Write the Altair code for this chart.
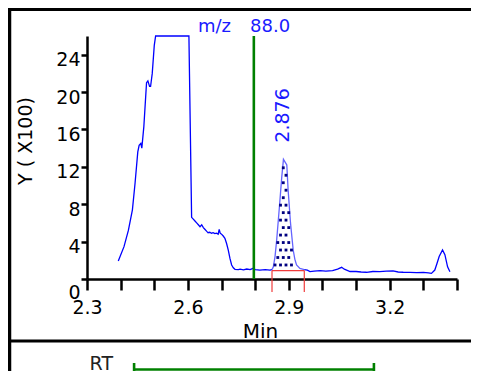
import altair as alt
import numpy as np
import pandas as pd

# ---- data ----
rt = [2.393, 2.41, 2.423, 2.435, 2.443, 2.451, 2.455, 2.46, 2.463, 2.469, 2.477, 2.481,
      2.486, 2.489, 2.494, 2.5, 2.504, 2.603, 2.611, 2.616, 2.621, 2.626, 2.631, 2.636,
      2.641, 2.646, 2.651, 2.656, 2.66, 2.665, 2.67, 2.675, 2.68, 2.685, 2.69, 2.693,
      2.696, 2.7, 2.705, 2.71, 2.715, 2.72, 2.725, 2.73, 2.735, 2.74, 2.75, 2.755, 2.765,
      2.775, 2.785, 2.794, 2.8, 2.814, 2.83, 2.844, 2.85, 2.854, 2.859, 2.864, 2.872,
      2.879, 2.884, 2.889, 2.894, 2.898, 2.905, 2.913, 2.918, 2.923, 2.933, 2.946, 2.955,
      2.963, 2.975, 2.993, 3.01, 3.03, 3.045, 3.057, 3.065, 3.082, 3.1, 3.115, 3.131,
      3.15, 3.17, 3.19, 3.21, 3.225, 3.24, 3.26, 3.28, 3.3, 3.315, 3.324, 3.334, 3.34,
      3.347, 3.357, 3.364, 3.372, 3.379]
intensity = [1.93, 3.46, 5.2, 7.4, 10.3, 13.6, 14.3, 14.5, 14.0, 16.3, 21.0, 21.2,
             20.6, 20.6, 22.0, 25.0, 26.0, 26.0, 6.6, 6.4, 6.2, 6.0, 5.8, 5.6,
             5.8, 5.5, 5.3, 5.1, 4.95, 5.0, 4.9, 4.95, 4.85, 4.9, 4.8, 5.3,
             4.9, 4.8, 4.6, 4.35, 3.8, 3.1, 2.2, 1.5, 1.2, 1.04, 1.0, 1.05, 0.98,
             1.07, 1.0, 1.14, 1.0, 0.96, 1.0, 0.96, 1.0, 1.3, 2.4, 4.2, 7.7,
             10.9, 12.8, 12.5, 12.2, 9.5, 6.0, 3.1, 2.1, 1.5, 1.14, 1.0, 0.95,
             0.8, 0.85, 0.9, 0.85, 0.9, 1.05, 1.25, 1.05, 0.8, 0.8, 0.75, 0.72,
             0.8, 0.78, 0.85, 0.86, 0.75, 0.72, 0.7, 0.68, 0.7, 0.65, 0.6, 0.96, 1.6,
             2.4, 3.1, 2.6, 1.3, 0.78]

x_ticks = [2.3, 2.4, 2.5, 2.6, 2.7, 2.8, 2.9, 3.0, 3.1, 3.2, 3.3, 3.4]
y_ticks = [0, 4, 8, 12, 16, 20, 24]

peak_start = [2.85]
peak_end = [2.946]
peak_baseline = [0.9]
peak_label = ["2.876"]
peak_label_pos = [2.884, 17.5]
mz_line_rt = [2.796]
mz_texts = ["m/z", "88.0"]
rt_range = [2.44, 3.153]
rt_label = ["RT"]

# frame (panel border) lines, in the chart's own units
frame_h_y = [28.835, -6.633]          # top border, divider between panels
frame_h_x = [2.06, 3.6]
frame_v_x = [2.0696]                   # left border
frame_v_y = [28.99, -12.0]

# ---- tables ----
seg = []
for t in rt:
    seg.append(0 if t <= peak_start[0] else (1 if t <= peak_end[0] else 2))
rows = []
for t, v, s in zip(rt, intensity, seg):
    rows.append({"t": t, "v": v, "seg": s})
for t, v in zip(rt, intensity):
    if abs(t - peak_start[0]) < 1e-9:
        rows.append({"t": t, "v": v, "seg": 1})
    if abs(t - peak_end[0]) < 1e-9:
        rows.append({"t": t, "v": v, "seg": 2})
trace = pd.DataFrame(rows).sort_values(["seg", "t"])
trace["part"] = trace["seg"].map({0: "a", 1: "peak", 2: "b"})

# dotted fill of the integrated peak
dots = []
xs = np.arange(peak_start[0] + 0.009, peak_end[0], 0.0163)
ys = np.arange(peak_baseline[0] + 0.6, 14, 0.8)
for j, yv in enumerate(ys):
    for xv in xs + (0.0082 if j % 2 else 0.0):
        cv = np.interp(xv, rt, intensity)
        if yv < cv - 0.5 and xv < peak_end[0]:
            dots.append({"t": float(xv), "v": float(yv)})
dots = pd.DataFrame(dots)

FONT = "DejaVu Sans"
xscale = alt.Scale(domain=[2.3, 3.4], nice=False, zero=False)
yscale = alt.Scale(domain=[0, 26], nice=False)

xaxis = alt.Axis(
    values=x_ticks, title="Min", labelExpr="(round(datum.value*10) % 3 == 2) ? format(datum.value, '.1f') : ''",
    grid=False, tickSize=11, tickWidth=2.5, domainWidth=2.5, domainColor="black", tickColor="black",
    labelColor="black", labelFont=FONT, labelFontSize=19, labelPadding=8, labelFlush=False,
    titleFont=FONT, titleFontSize=20, titleFontWeight="normal", titleColor="black",
    titleX=173, titleY=58, titleAlign="center", titleBaseline="alphabetic",
)
yaxis = alt.Axis(
    values=y_ticks, title="Y ( X100)", grid=False, tickSize=6, tickWidth=2.5, domainWidth=2.5,
    domainColor="black", tickColor="black", labelColor="black", labelFont=FONT, labelFontSize=19,
    labelPadding=1, labelFlush=False,
    labelOffset={"condition": {"test": "datum.value == 0", "value": 13}, "value": 5},
    titleFont=FONT, titleFontSize=19, titleFontWeight="normal", titleColor="black",
    titleAngle=270, titleX=-62, titleY=104.5, titleAlign="center", titleBaseline="middle",
)


def X(field="t"):
    return alt.X(f"{field}:Q", scale=xscale, axis=xaxis)


def Y(field="v"):
    return alt.Y(f"{field}:Q", scale=yscale, axis=yaxis)


line = alt.Chart(trace).mark_line(strokeWidth=1.3, interpolate="linear").encode(
    x=X(), y=Y(), detail="seg:N",
    color=alt.Color("part:N", scale=alt.Scale(domain=["a", "peak", "b"],
                                               range=["#0000ff", "#6464ff", "#0000ff"]), legend=None),
    order="t:Q",
)

dot_layer = alt.Chart(dots).mark_square(size=8, color="#000080", opacity=1).encode(x=X(), y=Y())

red_df = pd.DataFrame({"t": [peak_start[0], peak_end[0]], "v": [peak_baseline[0]] * 2})
red_v = alt.Chart(red_df).mark_rule(color="#f03c3c", strokeWidth=1.2).encode(
    x=X(), y=Y(), y2=alt.value(256))
red_h = alt.Chart(pd.DataFrame({"t": peak_start, "t2": peak_end, "v": peak_baseline})).mark_rule(
    color="#f03c3c", strokeWidth=1.2).encode(x=X(), x2="t2:Q", y=Y())

mz_line = alt.Chart(pd.DataFrame({"t": mz_line_rt})).mark_rule(color="#008000", strokeWidth=2.6).encode(
    x=X(), y=alt.value(0), y2=alt.value(243))

peak_text = alt.Chart(pd.DataFrame({"t": [peak_label_pos[0]], "v": [peak_label_pos[1]], "lab": peak_label})).mark_text(
    angle=270, align="center", baseline="middle", font=FONT, fontSize=19, color="#1a1aff").encode(
    x=X(), y=Y(), text="lab:N")

mz_text1 = alt.Chart(pd.DataFrame({"lab": [mz_texts[0]]})).mark_text(
    align="left", baseline="alphabetic", font=FONT, fontSize=18, color="#1a1aff").encode(
    x=alt.value(111), y=alt.value(-4.5), text="lab:N")
mz_text2 = alt.Chart(pd.DataFrame({"lab": [mz_texts[1]]})).mark_text(
    align="left", baseline="alphabetic", font=FONT, fontSize=18, color="#1a1aff").encode(
    x=alt.value(163), y=alt.value(-4.5), text="lab:N")

# RT bar in the lower panel
rt_bar = alt.Chart(pd.DataFrame({"t": [rt_range[0]], "t2": [rt_range[1]]})).mark_rule(
    color="#008000", strokeWidth=2.6).encode(x=X(), x2="t2:Q", y=alt.value(333.5))
rt_caps = alt.Chart(pd.DataFrame({"t": rt_range})).mark_rule(color="#008000", strokeWidth=2.6).encode(
    x=X(), y=alt.value(327), y2=alt.value(345))
rt_text = alt.Chart(pd.DataFrame({"lab": rt_label})).mark_text(
    align="right", baseline="alphabetic", font=FONT, fontSize=19, color="#222222").encode(
    x=alt.value(26), y=alt.value(334), text="lab:N")

# frame lines
frame_h = alt.Chart(pd.DataFrame({"t": [frame_h_x[0]] * 2, "t2": [frame_h_x[1]] * 2, "v": frame_h_y})).mark_rule(
    color="black", strokeWidth=3).encode(x=X(), x2="t2:Q", y=Y())
frame_v = alt.Chart(pd.DataFrame({"t": frame_v_x, "v": [frame_v_y[0]], "v2": [frame_v_y[1]]})).mark_rule(
    color="black", strokeWidth=3.5).encode(x=X(), y=Y(), y2="v2:Q")

chart = alt.layer(
    line, dot_layer, red_v, red_h, mz_line, peak_text, mz_text1, mz_text2,
    rt_bar, rt_caps, rt_text, frame_h, frame_v,
).properties(
    width=370, height=243,
    background="white",
    autosize=alt.AutoSizeParams(type="none"),
    padding={"left": 79, "top": 28, "right": 14, "bottom": 92},
).configure_view(stroke=None)

chart.save("out.html", embed_options={"renderer": "svg", "actions": False})
